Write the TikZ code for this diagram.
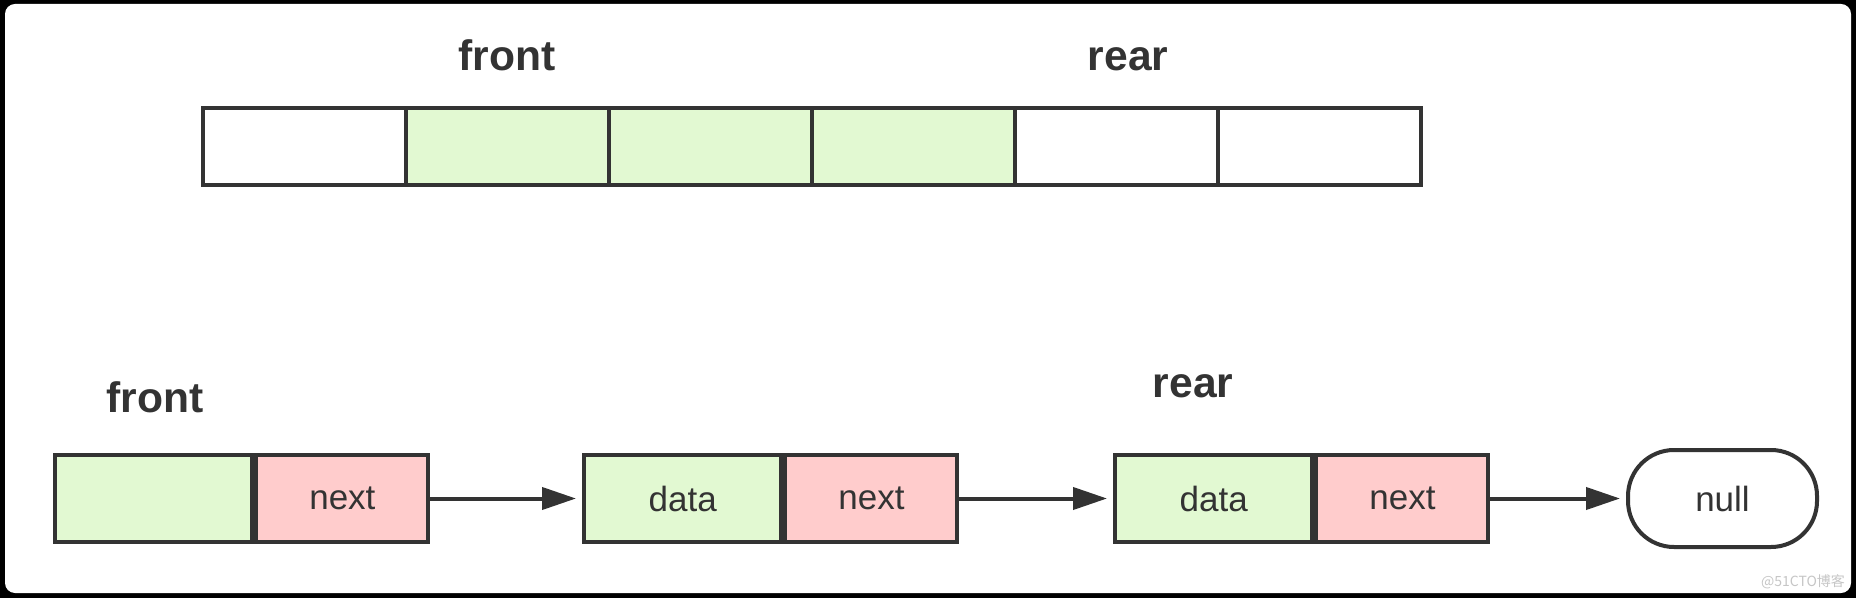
\documentclass[tikz,border=0pt]{standalone}
\usepackage{fontspec}
\setmainfont{Liberation Sans}
\newfontfamily\cjk{Noto Sans CJK SC}
\usetikzlibrary{arrows.meta}
\definecolor{Mint}{HTML}{E2F9D2}
\definecolor{Pink}{HTML}{FFCCCC}
\definecolor{Ink}{HTML}{333333}
\newcommand\lbl[1]{\fontsize{21.3}{24}\selectfont\bfseries #1}
\newcommand\word[1]{\fontsize{17.5}{20}\selectfont #1}

\begin{document}
\begin{tikzpicture}[
  x=0.5pt,
  y=-0.5pt,
  inner sep=0pt,
  Ink,
  line width=2pt,
  cell/.style={draw=Ink, minimum height=38.5pt, minimum width=101.5pt},
  box/.style={draw=Ink, minimum height=43.5pt, anchor=west},
  ptr/.style={-{Triangle[length=17pt,width=11pt]}, shorten >=3pt}]
\useasboundingbox (0,0) rectangle (1856,598);
\fill[black] (0,0) rectangle (1856,598);
\fill[white,rounded corners=5pt] (5,4) rectangle (1851,593);
% the array
\foreach \i/\c in {1/white,2/Mint,3/Mint,4/Mint,5/white,6/white}{
  \node[cell,fill=\c] (c\i) at (203+203*\i-101.5,146.5) {};}
\node[anchor=base] (topfront) at (507,71) {\lbl{front}};
\node[anchor=base] (toprear) at (1128,71) {\lbl{rear}};
% the linked list
\foreach \n/\x/\d in {1/53/{}, 2/582/data, 3/1113/data}{
  \node[box,fill=Mint,minimum width=98.7pt] (d\n) at (\x,498.5) {\word{\d}};
  \node[box,fill=Pink,minimum width=86pt] (n\n) at (d\n.east) {\word{next}};}
\node[draw=Ink, rounded corners=23pt, minimum width=94.5pt,
  minimum height=48.5pt] (null) at (1722.5,498.5) {\word{null}};
\draw[ptr] (n1) -- (d2);
\draw[ptr] (n2) -- (d3);
\draw[ptr] (n3) -- (null);
\node[anchor=base] (front) at (155,412) {\lbl{front}};
\node[anchor=base] (rear) at (1193,397) {\lbl{rear}};
\node[gray!45] (mark) at (1803,582) {\cjk\fontsize{7}{8}\selectfont @51CTO博客};
\end{tikzpicture}
\end{document}
